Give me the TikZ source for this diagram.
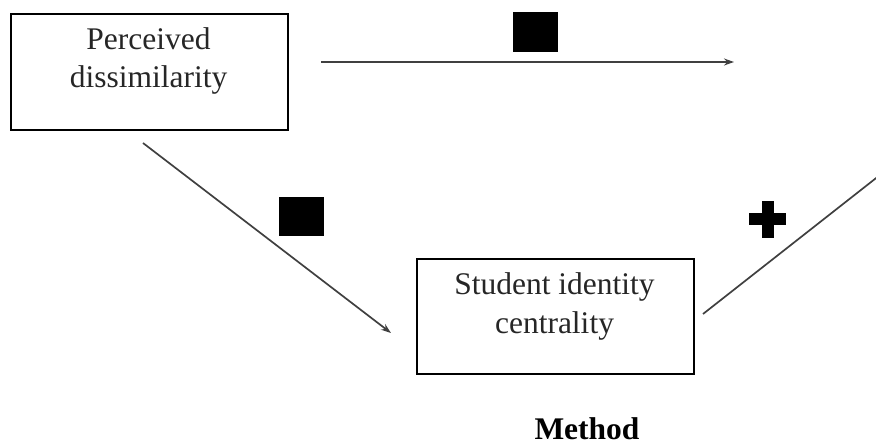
\documentclass[tikz,border=0pt]{standalone}
\usepackage{fontspec}
\setmainfont{Liberation Serif}
\usetikzlibrary{arrows.meta}
\begin{document}
\begin{tikzpicture}[x=1pt,y=-1pt,
  box/.style={draw=black,line width=2pt,inner sep=0pt,anchor=north west},
  txt/.style={font=\fontsize{31.5}{38}\selectfont,text=black!85,inner sep=0pt,anchor=base},
  conn/.style={draw=black!75,line width=1.7pt,-{Stealth[length=10pt,width=7pt]}},
  plain/.style={draw=black!75,line width=1.7pt},
  blk/.style={fill=black,draw=none}]
\useasboundingbox (0,0) rectangle (876,446);
% boxes
\node[box,minimum width=277pt,minimum height=116pt] (pd) at (10,13) {};
\node[box,minimum width=277pt,minimum height=115pt] (sic) at (416,258) {};
% texts
\node[txt] (pdt1) at (148.5,50) {Perceived};
\node[txt] (pdt2) at (148.5,88) {dissimilarity};
\node[txt] (sict1) at (554.5,295) {Student identity};
\node[txt] (sict2) at (554.5,334) {centrality};
\node[txt,font=\fontsize{31.5}{38}\selectfont\bfseries,text=black] (meth) at (587,439) {Method};
% connector end points
\coordinate (a1) at (321,62);
\coordinate (a2) at (734,62);
\coordinate (b1) at (143,143);
\coordinate (b2) at (391,333);
\coordinate (c1) at (703,314);
\coordinate (c2) at (880,175);
\draw[conn] (a1) -- (a2);
\draw[conn] (b1) -- (b2);
\draw[plain] (c1) -- (c2);
% black squares
\fill[blk] (513,12) rectangle (558,52);
\fill[blk] (279,197) rectangle (324,236);
% plus sign
\fill[blk] (761.5,201) rectangle (773.5,238);
\fill[blk] (749,213.5) rectangle (786,225.5);
\end{tikzpicture}
\end{document}
